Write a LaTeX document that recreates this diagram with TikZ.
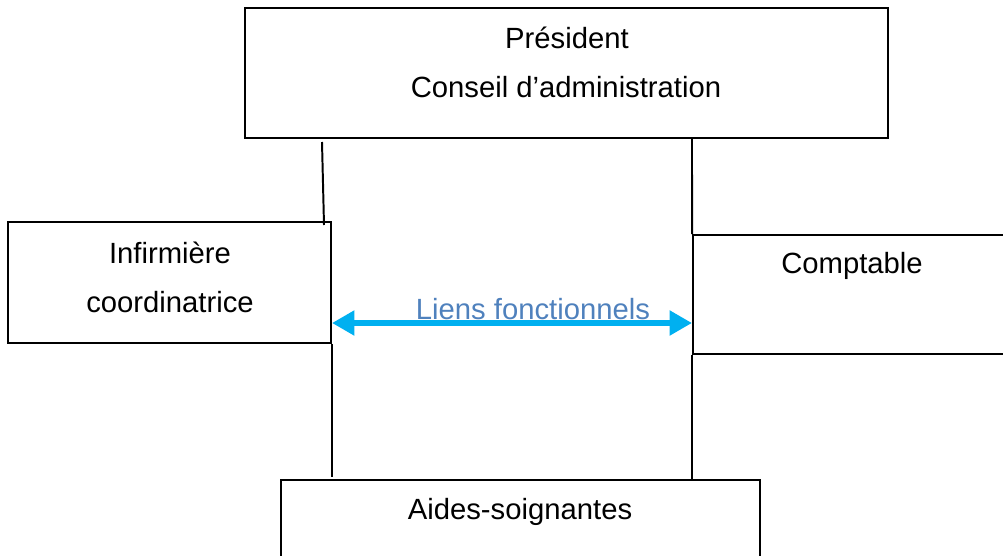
\documentclass[tikz,border=0pt]{standalone}
\usepackage{fontspec}
\setmainfont{Liberation Sans}
\usetikzlibrary{arrows.meta,positioning}
\definecolor{linkcyan}{HTML}{00B0F0}
\definecolor{linkblue}{HTML}{4F81BD}

\begin{document}
\begin{tikzpicture}[x=.25mm,y=-.25mm,font=\fontsize{20.8}{25}\selectfont,
  box/.style={draw,line width=1.4pt,inner sep=0pt},
  txt/.style={anchor=base,inner sep=0pt},
  link/.style={draw=linkcyan,line width=4pt,{Triangle[length=16pt,width=17pt]}-{Triangle[length=16pt,width=17pt]}}]
\useasboundingbox (0,0) rectangle (1003,555);
% boites
\node[box,minimum width=160.75mm,minimum height=32.5mm] (pres) at (566.5,73) {};
\node[box,minimum width=80.75mm,minimum height=30.25mm] (inf) at (169.5,282.5) {};
\node[box,minimum width=81.75mm,minimum height=29.75mm] (comp) at (856.5,294.5) {};
\node[box,minimum width=119.75mm,minimum height=25mm] (aide) at (520.5,530) {};
% textes
\node[txt] (presA) at (567,48) {Président};
\node[txt] (presB) at (566,97) {Conseil d’administration};
\node[txt] (infA) at (170,263) {Infirmière};
\node[txt] (infB) at (170,312) {coordinatrice};
\node[txt] (compA) at (852,273) {Comptable};
\node[txt] (aideA) at (520,519) {Aides-soignantes};
% liaisons
\coordinate (g1) at (322,142);
\coordinate (g2) at (324,225);
\coordinate (g3) at (inf.south east |- 0,477);
\coordinate (d1) at (692,137);
\coordinate (d2) at (comp.south west |- aide.north);
\draw[line width=1.4pt] (g1) -- (g2);
\draw[line width=1.4pt] (inf.south east) -- (g3);
\draw[line width=1.4pt] (d1) -- (comp.north west);
\draw[line width=1.4pt] (comp.south west) -- (d2);
% liens fonctionnels
\coordinate (fl) at (inf.east |- 0,323);
\coordinate (fr) at (comp.west |- 0,323);
\draw[link] (fl) -- (fr);
\node[txt,text=linkblue] (lien) at (533,319) {Liens fonctionnels};
\end{tikzpicture}
\end{document}
